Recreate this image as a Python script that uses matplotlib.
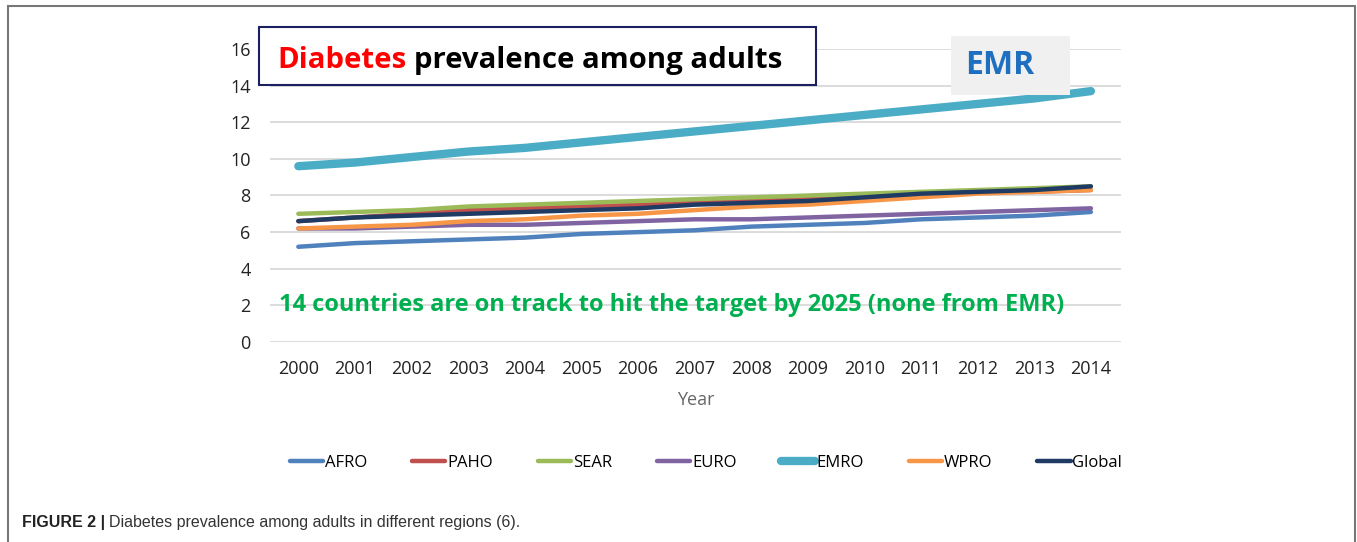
import matplotlib.pyplot as plt
from matplotlib.patches import Rectangle

years = list(range(2000, 2015))
afro = [5.2, 5.4, 5.5, 5.6, 5.7, 5.9, 6.0, 6.1, 6.3, 6.4, 6.5, 6.7, 6.8, 6.9, 7.1]
paho = [6.6, 6.8, 7.0, 7.2, 7.3, 7.4, 7.5, 7.6, 7.8, 7.9, 8.0, 8.1, 8.2, 8.2, 8.3]
sear = [7.0, 7.1, 7.2, 7.4, 7.5, 7.6, 7.7, 7.8, 7.9, 8.0, 8.1, 8.2, 8.3, 8.4, 8.5]
euro = [6.2, 6.2, 6.3, 6.4, 6.4, 6.5, 6.6, 6.7, 6.7, 6.8, 6.9, 7.0, 7.1, 7.2, 7.3]
emro = [9.6, 9.8, 10.1, 10.4, 10.6, 10.9, 11.2, 11.5, 11.8, 12.1, 12.4, 12.7, 13.0, 13.3, 13.7]
wpro = [6.2, 6.3, 6.4, 6.6, 6.7, 6.9, 7.0, 7.2, 7.4, 7.5, 7.7, 7.9, 8.1, 8.2, 8.3]
glob = [6.6, 6.8, 6.9, 7.0, 7.1, 7.2, 7.3, 7.5, 7.6, 7.7, 7.9, 8.1, 8.2, 8.3, 8.5]

series = [
    ('AFRO', afro, '#4F81BD', 3.2),
    ('PAHO', paho, '#C0504D', 3.2),
    ('SEAR', sear, '#9BBB59', 3.2),
    ('EURO', euro, '#8064A2', 3.2),
    ('EMRO', emro, '#4BACC6', 6.0),
    ('WPRO', wpro, '#F79646', 3.2),
    ('Global', glob, '#1F3B63', 3.2),
]

fig = plt.figure(figsize=(13.57, 5.42), dpi=100)
ax = fig.add_axes([0.199, 0.369, 0.627, 0.5406])

for name, vals, col, lw in series:
    ax.plot(years, vals, color=col, lw=lw, label=name, solid_capstyle='round')

ax.set_xlim(1999.5, 2014.53)
ax.set_ylim(0, 16)
ax.set_yticks(range(0, 17, 2))
ax.set_xticks(years)
ax.grid(axis='y', color='#d9d9d9', lw=1.3)
ax.set_axisbelow(True)
for s in ax.spines.values():
    s.set_visible(False)
ax.tick_params(length=0, labelsize=13, colors='#222222')
for lab in ax.get_xticklabels() + ax.get_yticklabels():
    lab.set_family('Open Sans')
ax.xaxis.set_tick_params(pad=13)
ax.yaxis.set_tick_params(pad=14)
ax.set_xlabel('Year', family='Open Sans', fontsize=13, color='#666666', labelpad=9)

# title box
fig.patches.append(Rectangle((259 / 1357, 1 - 85 / 542), 557 / 1357, 58 / 542,
                             transform=fig.transFigure, facecolor='white',
                             edgecolor='#1a2060', lw=1.5, zorder=3))
t1 = fig.text(277 / 1357, 1 - 68 / 542, 'Diabetes', color='#FF0000', fontsize=21.2,
              fontweight='bold', family='Open Sans', zorder=4)
fig.canvas.draw()
bb = t1.get_window_extent()
fig.text(bb.x1 / 1357 + 0.006, 1 - 68 / 542, 'prevalence among adults', color='black',
         fontsize=21.2, fontweight='bold', family='Open Sans', zorder=4)

# EMR box
fig.patches.append(Rectangle((951 / 1357, 1 - 95 / 542), 119 / 1357, 59 / 542,
                             transform=fig.transFigure, facecolor='#f0f0f0',
                             edgecolor='none', zorder=3))
fig.text(1000 / 1357, 1 - 66 / 542, 'EMR', color='#1F6FC0', fontsize=23,
         fontweight='bold', family='Open Sans', ha='center', va='center', zorder=4)

ax.text(2000 - 0.35, 2.0, '14 countries are on track to hit the target by 2025 (none from EMR)',
        color='#00B050', fontsize=17, fontweight='bold', family='Open Sans', va='center')

fig.legend(loc='center', bbox_to_anchor=(706 / 1357, 1 - 463 / 542), ncol=7,
           frameon=False, handlelength=2.0, handletextpad=0.1, columnspacing=2.7,
           prop={'family': 'Open Sans', 'size': 12})

fig.text(22 / 1357, 1 - 522 / 542, 'FIGURE 2 |', fontsize=11.5, fontweight='bold',
         family='Liberation Sans', color='#222222', va='center')
fig.text(109 / 1357, 1 - 522 / 542, 'Diabetes prevalence among adults in different regions (6).',
         fontsize=11.5, family='Liberation Sans', color='#333333', va='center')

fig.patches.append(Rectangle((8 / 1357, -0.01), 1347 / 1357, 1 - 6 / 542 + 0.01,
                             transform=fig.transFigure, facecolor='none',
                             edgecolor='#777777', lw=1.5, zorder=5))

fig.savefig('out.png', dpi=100)
